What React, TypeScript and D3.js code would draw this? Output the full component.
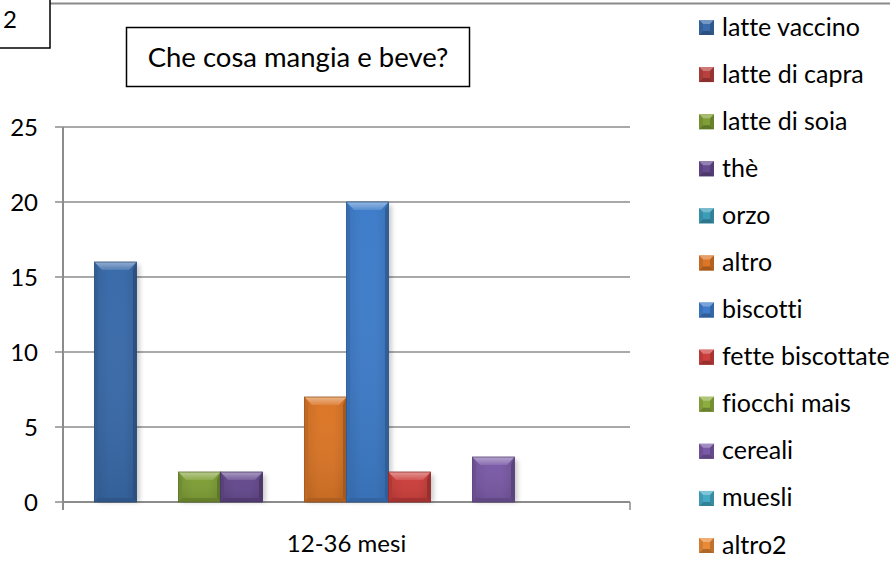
import React from "react";
import * as d3 from "d3";

const categories = ["12-36 mesi"];
const seriesNames = [
  "latte vaccino", "latte di capra", "latte di soia", "thè", "orzo", "altro",
  "biscotti", "fette biscottate", "fiocchi mais", "cereali", "muesli", "altro2",
];
const seriesValues = [16, 0, 2, 2, 0, 7, 20, 2, 0, 3, 0, 0];
const seriesColors = [
  "#3A6BAA", "#B8403D", "#7F9F36", "#654A8E", "#3C9DB8", "#DB7627",
  "#3F7DCA", "#CC3F3C", "#8DAD3E", "#7A5AA6", "#45AAC5", "#E98A38",
];
const yTicks = [0, 5, 10, 15, 20, 25];

const W = 890, H = 561;
const plot = { left: 63, right: 630, top: 127, bottom: 502 };
const FONT = "Lato, 'Open Sans', sans-serif";

function lighten(c: string, k: number) {
  return d3.interpolateRgb(c, "#ffffff")(k);
}
function darken(c: string, k: number) {
  return d3.interpolateRgb(c, "#000000")(k);
}

export default function App() {
  const y = d3.scaleLinear().domain([0, 25]).range([plot.bottom, plot.top]);
  const x0 = d3
    .scaleBand<string>()
    .domain(categories)
    .range([plot.left, plot.right])
    .paddingInner(0)
    .paddingOuter(0.0625);
  const x1 = d3
    .scaleBand<string>()
    .domain(seriesNames)
    .range([0, x0.bandwidth()])
    .padding(0);
  const bw = x1.bandwidth();

  const legendY = d3
    .scalePoint<string>()
    .domain(seriesNames)
    .range([27, 545]);

  return (
    <svg
      width={W}
      height={H}
      style={{
        position: "absolute",
        left: 0,
        top: 0,
        background: "#fff",
        fontVariantLigatures: "none",
        fontFeatureSettings: "'liga' 0, 'clig' 0",
      }}
      fontFamily={FONT}
    >
      <defs>
        <filter id="sh" x="-50%" y="-20%" width="200%" height="140%">
          <feGaussianBlur stdDeviation="2.5" />
        </filter>
        {seriesColors.map((c, i) => (
          <linearGradient key={i} id={`g${i}`} x1="0" x2="1" y1="0" y2="0">
            <stop offset="0" stopColor={darken(c, 0.08)} />
            <stop offset="0.35" stopColor={c} />
            <stop offset="0.7" stopColor={c} />
            <stop offset="1" stopColor={darken(c, 0.1)} />
          </linearGradient>
        ))}
        {seriesColors.map((c, i) => (
          <linearGradient key={"t" + i} id={`gt${i}`} x1="0" x2="0" y1="0" y2="1">
            <stop offset="0" stopColor={lighten(c, 0.45)} />
            <stop offset="1" stopColor={lighten(c, 0.12)} />
          </linearGradient>
        ))}
        <linearGradient id="gv" x1="0" x2="0" y1="0" y2="1">
          <stop offset="0" stopColor="#fff" stopOpacity="0" />
          <stop offset="1" stopColor="#000" stopOpacity="0.1" />
        </linearGradient>
      </defs>

      {/* top border line */}
      <line x1={50} x2={W} y1={3.5} y2={3.5} stroke="#8a8a8a" strokeWidth={2} />
      {/* page number box */}
      <path d="M50,0 V48 H0" fill="none" stroke="#000" strokeWidth={1.5} />
      <text x={3} y={28} fontSize={24} fill="#000">2</text>

      {/* title box */}
      <rect x={126.5} y={27.5} width={343} height={59} fill="#fff" stroke="#000" strokeWidth={1.5} />
      <text x={298} y={67} fontSize={27.5} textAnchor="middle" fill="#000">
        Che cosa mangia e beve?
      </text>

      {/* gridlines */}
      {yTicks.map((t) => (
        <g key={t}>
          <line
            x1={plot.left}
            x2={plot.right}
            y1={y(t)}
            y2={y(t)}
            stroke="#8c8c8c"
            strokeWidth={t === 0 ? 2 : 1.5}
          />
          <line x1={55} x2={plot.left} y1={y(t)} y2={y(t)} stroke="#8c8c8c" strokeWidth={1.5} />
          <text x={38} y={y(t) + 8.5} fontSize={24} textAnchor="end" fill="#000">
            {t}
          </text>
        </g>
      ))}
      {/* y axis */}
      <line x1={plot.left} x2={plot.left} y1={plot.top} y2={plot.bottom + 8} stroke="#8c8c8c" strokeWidth={2} />
      <line x1={plot.right} x2={plot.right} y1={plot.bottom} y2={plot.bottom + 8} stroke="#8c8c8c" strokeWidth={1.5} />

      {/* bars */}
      {categories.map((cat) => (
        <g key={cat} transform={`translate(${x0(cat)},0)`}>
          {seriesNames.map((s, i) => {
            const v = seriesValues[i];
            if (!v) return null;
            const bx = x1(s)!;
            const by = y(v);
            const bh = y(0) - by;
            return (
              <rect
                key={"s" + s}
                x={bx + 3}
                y={by + 3}
                width={bw}
                height={bh - 3}
                fill="#000"
                opacity={0.22}
                filter="url(#sh)"
              />
            );
          })}
          {seriesNames.map((s, i) => {
            const v = seriesValues[i];
            if (!v) return null;
            const c = seriesColors[i];
            const bx = x1(s)!;
            const by = y(v);
            const bh = y(0) - by;
            const bt = 8;
            const bs = 3.5;
            const bb = 4;
            return (
              <g key={s}>
                <rect x={bx} y={by} width={bw} height={bh} fill={`url(#g${i})`} />
                <rect x={bx} y={by} width={bw} height={bh} fill="url(#gv)" />
                {/* left bevel */}
                <path
                  d={`M${bx},${by} L${bx + bs},${by + bt} V${by + bh - bb} L${bx},${by + bh} Z`}
                  fill={darken(c, 0.12)}
                />
                {/* right bevel */}
                <path
                  d={`M${bx + bw},${by} L${bx + bw - bs},${by + bt} V${by + bh - bb} L${bx + bw},${by + bh} Z`}
                  fill={darken(c, 0.25)}
                />
                {/* bottom bevel */}
                <path
                  d={`M${bx},${by + bh} L${bx + bs},${by + bh - bb} H${bx + bw - bs} L${bx + bw},${by + bh} Z`}
                  fill={darken(c, 0.2)}
                />
                {/* top bevel */}
                <path
                  d={`M${bx},${by} H${bx + bw} L${bx + bw - bs - 4},${by + bt} H${bx + bs + 4} Z`}
                  fill={`url(#gt${i})`}
                />
                <rect x={bx} y={by} width={bw} height={bh} fill="none" stroke={darken(c, 0.3)} strokeWidth={0.8} />
              </g>
            );
          })}
        </g>
      ))}

      {/* category label */}
      <text
        x={x0(categories[0])! + x0.bandwidth() / 2}
        y={552}
        fontSize={24}
        textAnchor="middle"
        fill="#000"
      >
        {categories[0]}
      </text>

      {/* legend */}
      {seriesNames.map((s, i) => {
        const cy = legendY(s)!;
        const c = seriesColors[i];
        const sz = 15;
        const lx = 699;
        const ly = cy - sz / 2 + 0.5;
        const b = 4;
        return (
          <g key={"l" + s}>
            <rect x={lx} y={ly} width={sz} height={sz} fill={c} />
            <path d={`M${lx},${ly} H${lx + sz} L${lx + sz - b},${ly + b} H${lx + b} Z`} fill={lighten(c, 0.3)} />
            <path d={`M${lx},${ly + sz} H${lx + sz} L${lx + sz - b},${ly + sz - b} H${lx + b} Z`} fill={darken(c, 0.25)} />
            <path d={`M${lx},${ly} L${lx + b},${ly + b} V${ly + sz - b} L${lx},${ly + sz} Z`} fill={darken(c, 0.1)} />
            <path d={`M${lx + sz},${ly} L${lx + sz - b},${ly + b} V${ly + sz - b} L${lx + sz},${ly + sz} Z`} fill={darken(c, 0.18)} />
            <text x={722} y={cy + 8.5} fontSize={25} fill="#000">
              {s}
            </text>
          </g>
        );
      })}
    </svg>
  );
}
